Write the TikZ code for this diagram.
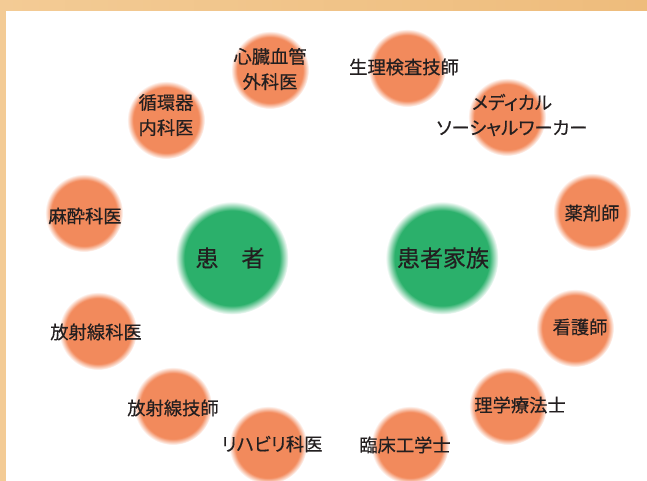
\documentclass[tikz,border=0pt]{standalone}
\usepackage{fontspec}
\setmainfont{Noto Sans CJK JP}[RawFeature=+palt, FakeBold=0.4]

\definecolor{ink}{HTML}{231F20}
\definecolor{framel}{HTML}{F3CB95}
\definecolor{framer}{HTML}{EEBC7C}

\pgfdeclareradialshading{glowfade}{\pgfpoint{0bp}{0bp}}{rgb(0bp)=(0.95,0.54,0.36); rgb(21bp)=(0.95,0.54,0.36); rgb(25bp)=(1,1,1); rgb(50bp)=(1,1,1)}
\pgfdeclareradialshading{greenfade}{\pgfpoint{0bp}{0bp}}{rgb(0bp)=(0.17,0.69,0.42); rgb(21bp)=(0.17,0.69,0.42); rgb(25bp)=(1,1,1); rgb(50bp)=(1,1,1)}

\begin{document}
\begin{tikzpicture}[x=0.03cm, y=-0.03cm]
    \useasboundingbox (0, 0) rectangle (647, 481); % bounding box
    \clip (0, 0) rectangle (647, 481);

    % frame
    \fill [left color=framel, right color=framer] (0, 0) rectangle (647, 11);
    \fill [framel] (0, 0) rectangle (6, 481);

    % staff circles
    \begin{scope}[every node/.style={circle, shade, shading=glowfade, minimum size=2.34cm, inner sep=0pt}]
        \node at (270,  70) (cvs)    {};
        \node at (407,  68) (seiri)  {};
        \node at (507, 117) (msw)    {};
        \node at (592, 212) (yaku)   {};
        \node at (575, 328) (kango)  {};
        \node at (508, 406) (rigaku) {};
        \node at (410, 445) (rinsho) {};
        \node at (268, 445) (riha)   {};
        \node at (173, 406) (rtech)  {};
        \node at ( 98, 331) (rdoc)   {};
        \node at ( 84, 213) (masui)  {};
        \node at (166, 120) (junkan) {};
    \end{scope}

    % patient and family
    \begin{scope}[every node/.style={circle, shade, shading=greenfade, minimum size=3.39cm, inner sep=0pt}]
        \node at (232, 258) (pat) {};
        \node at (442, 258) (fam) {};
    \end{scope}

    % staff names
    \begin{scope}[every node/.style={align=center, text=ink, inner sep=0pt, font=\fontsize{15.6}{21.5}\selectfont}]
        \node at (270,  69) (cvs-t)    {心臓血管\\外科医};
        \node at (404,  67) (seiri-t)  {生理検査技師};
        \node at (512, 115) (msw-t)    {メディカル\\ソーシャルワーカー};
        \node at (592, 213) (yaku-t)   {薬剤師};
        \node at (580, 327) (kango-t)  {看護師};
        \node at (520, 405) (rigaku-t) {理学療法士};
        \node at (405, 445) (rinsho-t) {臨床工学士};
        \node at (272, 444) (riha-t)   {リハビリ科医};
        \node at (173, 408) (rtech-t)  {放射線技師};
        \node at ( 96, 332) (rdoc-t)   {放射線科医};
        \node at ( 85, 216) (masui-t)  {麻酔科医};
        \node at (166, 115) (junkan-t) {循環器\\内科医};
    \end{scope}

    % patient names
    \begin{scope}[every node/.style={text=ink, inner sep=0pt, font=\fontsize{19.6}{24}\selectfont}]
        \node at (230, 258) (pat-t) {患　者};
        \node at (443, 258) (fam-t) {患者家族};
    \end{scope}
\end{tikzpicture}
\end{document}
